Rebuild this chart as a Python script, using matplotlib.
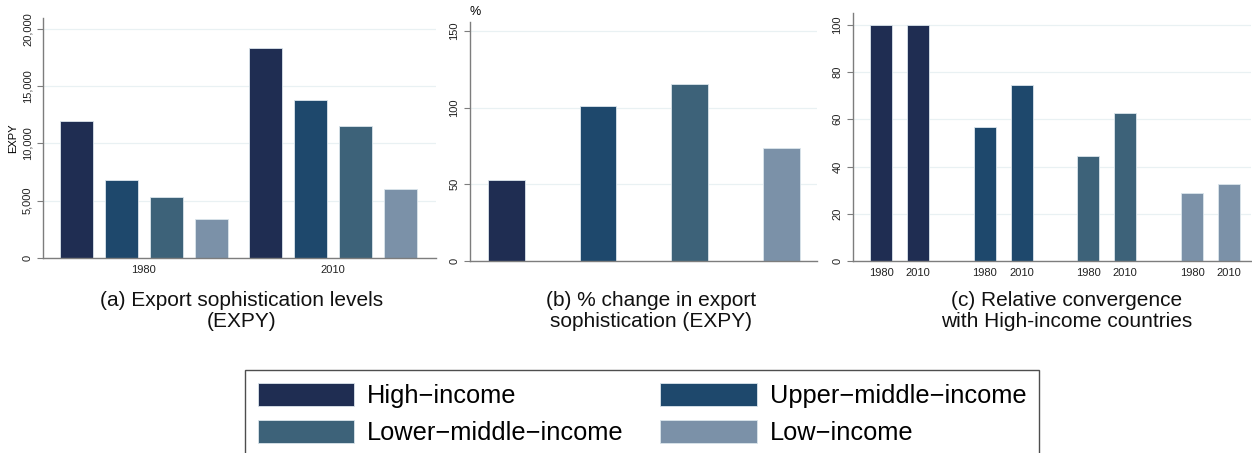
import matplotlib
matplotlib.use("Agg")
import matplotlib.pyplot as plt
from matplotlib.patches import Patch

plt.rcParams['font.family'] = ['Liberation Sans', 'DejaVu Sans']

# ---- data ----
groups = ["High\u2212income", "Upper\u2212middle\u2212income",
          "Lower\u2212middle\u2212income", "Low\u2212income"]
years = ["1980", "2010"]
expy_1980 = [12000, 6800, 5330, 3430]
expy_2010 = [18370, 13770, 11500, 6000]
pct_change = [52.6, 101, 115.3, 73.4]
conv_1980 = [100, 56.8, 44.6, 28.9]
conv_2010 = [100, 74.6, 62.5, 32.7]

colors = ['#1f2d52', '#1e486c', '#3d6279', '#7b91a8']
edge = '#dbe5ec'
grid_c = '#e9f1f3'
spine_c = '#7d7d7d'

fig = plt.figure(figsize=(12.52, 4.53), dpi=100)
W, H = 1252, 453


def add_ax(l, t, r, b):
    return fig.add_axes([l / W, 1 - b / H, (r - l) / W, (b - t) / H])


def style(ax):
    for s in ['top', 'right']:
        ax.spines[s].set_visible(False)
    for s in ['left', 'bottom']:
        ax.spines[s].set_color(spine_c)
        ax.spines[s].set_linewidth(1.0)
    ax.yaxis.grid(True, color=grid_c, linewidth=0.9)
    ax.set_axisbelow(True)
    ax.tick_params(axis='y', colors=spine_c, labelcolor='#222222', length=4,
                   labelsize=8)
    ax.tick_params(axis='x', length=0, labelsize=8, labelcolor='#222222', pad=5)
    for lab in ax.get_yticklabels():
        lab.set_rotation(90)
        lab.set_va('center')


# ---- (a) EXPY levels ----
ax1 = add_ax(43, 18, 436, 258)
pos_a = [[0, 1, 2, 3], [4.2, 5.2, 6.2, 7.2]]
for yi, vals in enumerate([expy_1980, expy_2010]):
    ax1.bar(pos_a[yi], vals, width=0.73, color=colors, edgecolor=edge, linewidth=0.6)
ax1.set_xlim(-0.74, 7.98)
ax1.set_ylim(0, 20960)
ax1.set_yticks([0, 5000, 10000, 15000, 20000])
ax1.set_yticklabels(['0', '5,000', '10,000', '15,000', '20,000'])
ax1.set_xticks([1.5, 5.7])
ax1.set_xticklabels(years)
ax1.set_ylabel('EXPY', fontsize=8, labelpad=3)
style(ax1)

# ---- (b) % change ----
ax2 = add_ax(470, 22, 817, 261)
ax2.bar(range(4), pct_change, width=0.4, color=colors, edgecolor=edge, linewidth=0.6)
ax2.set_xlim(-0.4, 3.39)
ax2.set_ylim(0, 155.9)
ax2.set_yticks([0, 50, 100, 150])
ax2.set_xticks([])
style(ax2)
fig.text(469 / W, 1 - 12 / H, '%', fontsize=9, ha='left', va='center')

# ---- (c) convergence ----
ax3 = add_ax(853, 13, 1251, 261)
gstep = 2.81
xt, xl = [], []
for g in range(4):
    xs = [g * gstep, g * gstep + 1]
    ax3.bar(xs, [conv_1980[g], conv_2010[g]], width=0.6, color=colors[g],
            edgecolor=edge, linewidth=0.6)
    xt += xs
    xl += years
ax3.set_xlim(-0.76, 3 * gstep + 1 + 0.6)
ax3.set_ylim(0, 105)
ax3.set_yticks([0, 20, 40, 60, 80, 100])
ax3.set_xticks(xt)
ax3.set_xticklabels(xl)
style(ax3)

# ---- subtitles ----
sub_kw = dict(fontsize=15, ha='center', va='top', linespacing=1.15, color='#111111')
fig.text(242 / W, 1 - 291 / H, '(a) Export sophistication levels\n(EXPY)', **sub_kw)
fig.text(651 / W, 1 - 291 / H, '(b) % change in export\nsophistication (EXPY)', **sub_kw)
fig.text(1067 / W, 1 - 291 / H, '(c) Relative convergence\nwith High-income countries', **sub_kw)

# ---- legend ----
handles = [Patch(facecolor=c, edgecolor=edge, linewidth=0.6) for c in colors]
order = [0, 2, 1, 3]
leg = fig.legend([handles[i] for i in order], [groups[i] for i in order],
                 ncol=2, loc='upper left', bbox_to_anchor=(245 / W, 1 - 370 / H),
                 fontsize=18.3, frameon=True, fancybox=False,
                 handlelength=3.8, handleheight=1.05, handletextpad=0.5,
                 columnspacing=1.45, labelspacing=0.45, borderpad=0.5,
                 borderaxespad=0)
leg.get_frame().set_edgecolor('#222222')
leg.get_frame().set_linewidth(1.0)

fig.savefig('out.png', dpi=100)
